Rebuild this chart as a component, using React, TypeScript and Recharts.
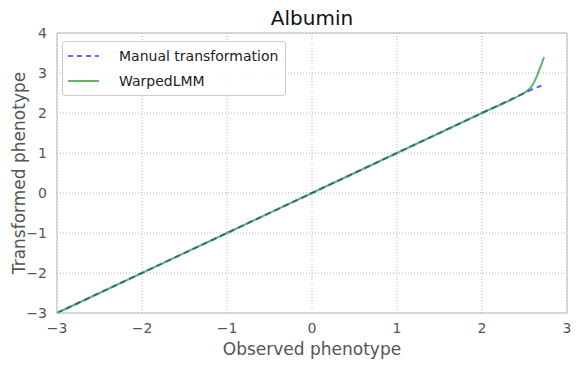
import React from 'react';
import {
  LineChart,
  Line,
  XAxis,
  YAxis,
  CartesianGrid,
  ReferenceLine,
} from 'recharts';

// Observed vs transformed phenotype for the two transformations
const manualX = [-3, -2, -1, 0, 1, 2, 2.5, 2.6, 2.7];
const manualY = [-3, -2, -1, 0, 1, 2, 2.5, 2.6, 2.68];

const warpedX = [-3, -2, -1, 0, 1, 2, 2.45, 2.53, 2.6, 2.66, 2.7, 2.73];
const warpedY = [-3, -2, -1, 0, 1, 2, 2.45, 2.55, 2.72, 3.0, 3.22, 3.4];

const xTicks = [-3, -2, -1, 0, 1, 2, 3];
const yTicks = [-3, -2, -1, 0, 1, 2, 3, 4];

const manualData = manualX.map((x, i) => ({ x, y: manualY[i] }));
const warpedData = warpedX.map((x, i) => ({ x, y: warpedY[i] }));

const FONT = '"DejaVu Sans", sans-serif';
const BLUE = '#0000ff';
const GREEN = '#008000';
const ALPHA = 0.6;
const TICK = { fontSize: 14, fill: '#555', fontFamily: FONT };

const fmt = (v: number) => (v < 0 ? `\u2212${-v}` : `${v}`);

const LegendBox = () => (
  <div
    style={{
      position: 'absolute',
      left: 62,
      top: 41,
      width: 224,
      height: 55,
      border: '1px solid #ccc',
      borderRadius: 3,
      background: 'rgba(255,255,255,0.9)',
      fontFamily: FONT,
      fontSize: 14,
      color: '#222',
      boxSizing: 'border-box',
      whiteSpace: 'nowrap',
    }}
  >
    <div style={{ display: 'flex', alignItems: 'center', height: 25, marginTop: 1 }}>
      <svg width={56} height={10} style={{ flexShrink: 0 }}>
        <line x1={5} x2={36} y1={5} y2={5} stroke={BLUE} strokeOpacity={ALPHA} strokeWidth={2} strokeDasharray="5 4" />
      </svg>
      <span>Manual transformation</span>
    </div>
    <div style={{ display: 'flex', alignItems: 'center', height: 25 }}>
      <svg width={56} height={10} style={{ flexShrink: 0 }}>
        <line x1={5} x2={36} y1={5} y2={5} stroke={GREEN} strokeOpacity={ALPHA} strokeWidth={2} />
      </svg>
      <span>WarpedLMM</span>
    </div>
  </div>
);

export default function App() {
  return (
    <div style={{ position: 'absolute', left: 0, top: 0, width: 576, height: 368, background: '#fff' }}>
      <LineChart width={576} height={368} margin={{ top: 33, right: 9, left: 0, bottom: 0 }}>
        <CartesianGrid stroke="#b5b5b5" strokeDasharray="1 2" />
        <XAxis
          type="number"
          dataKey="x"
          domain={[-3, 3]}
          ticks={xTicks}
          tickFormatter={fmt}
          height={55}
          tick={TICK}
          tickLine={false}
          tickMargin={4}
          axisLine={{ stroke: '#bbb' }}
          allowDuplicatedCategory={false}
        />
        <YAxis
          type="number"
          dataKey="y"
          domain={[-3, 4]}
          ticks={yTicks}
          tickFormatter={fmt}
          width={57}
          tick={TICK}
          tickLine={false}
          tickMargin={4}
          axisLine={{ stroke: '#bbb' }}
        />
        <ReferenceLine y={4} stroke="#bbb" />
        <ReferenceLine x={3} stroke="#bbb" />
        <Line
          data={manualData}
          dataKey="y"
          type="monotone"
          stroke={BLUE}
          strokeOpacity={ALPHA}
          strokeWidth={2}
          strokeDasharray="6 4"
          dot={false}
          isAnimationActive={false}
        />
        <Line
          data={warpedData}
          dataKey="y"
          type="monotone"
          stroke={GREEN}
          strokeOpacity={ALPHA}
          strokeWidth={2}
          dot={false}
          isAnimationActive={false}
        />
      </LineChart>
      <LegendBox />
      <div
        style={{
          position: 'absolute',
          left: 57,
          width: 510,
          top: 6,
          textAlign: 'center',
          fontFamily: FONT,
          fontSize: 20,
          color: '#111',
        }}
      >
        Albumin
      </div>
      <div
        style={{
          position: 'absolute',
          left: 312 - 150,
          width: 300,
          top: 339,
          textAlign: 'center',
          fontFamily: FONT,
          fontSize: 17,
          color: '#555',
        }}
      >
        Observed phenotype
      </div>
      <div
        style={{
          position: 'absolute',
          left: 19 - 150,
          width: 300,
          top: 173 - 10,
          height: 20,
          lineHeight: '20px',
          textAlign: 'center',
          fontFamily: FONT,
          fontSize: 17,
          color: '#555',
          transform: 'rotate(-90deg)',
        }}
      >
        Transformed phenotype
      </div>
    </div>
  );
}
